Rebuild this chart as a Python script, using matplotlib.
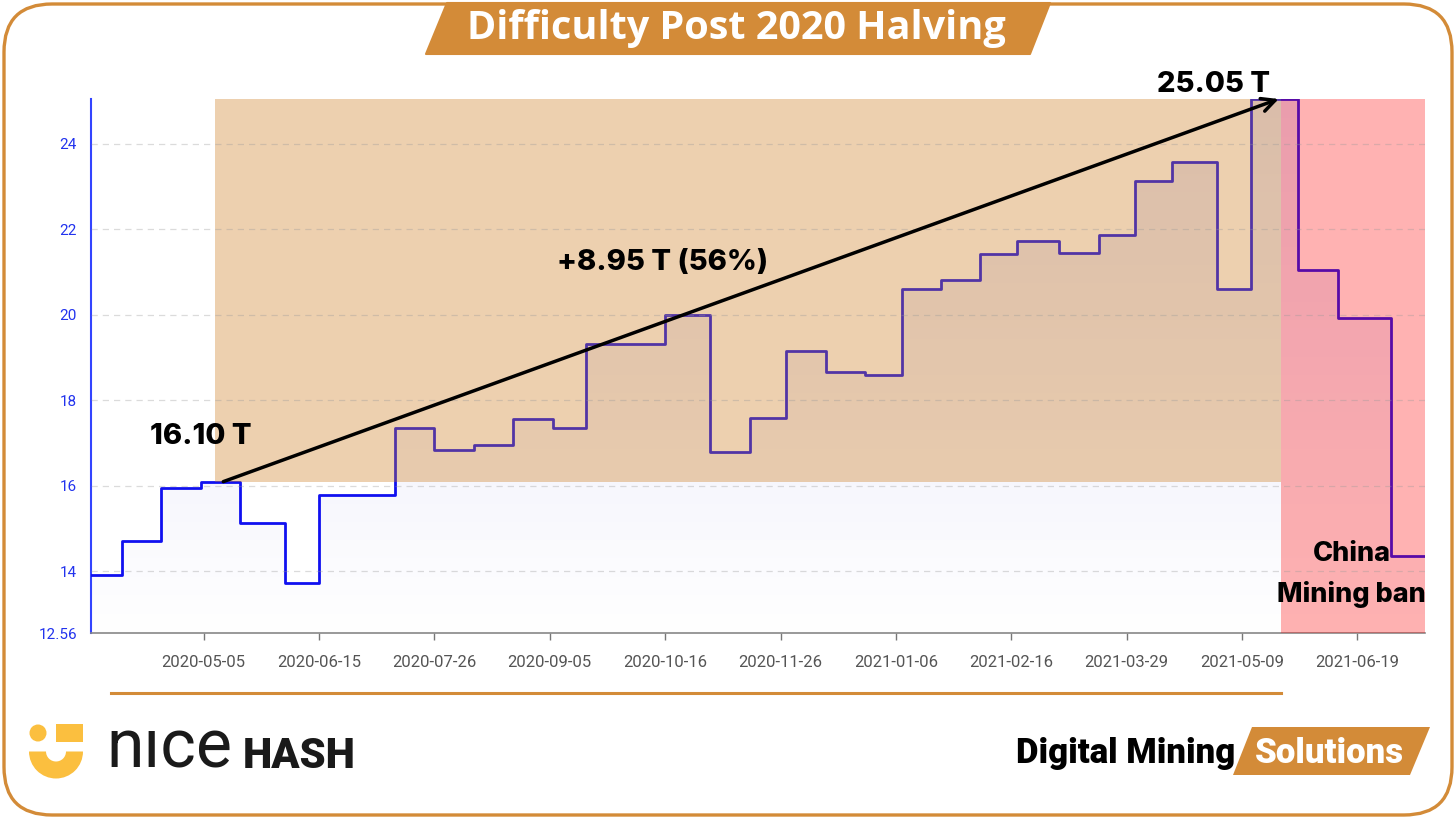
import numpy as np
import pandas as pd
import matplotlib.pyplot as plt
import matplotlib.dates as mdates
from matplotlib.patches import FancyBboxPatch, Polygon, Circle, Rectangle, Wedge
from matplotlib.colors import LinearSegmentedColormap

# difficulty steps (T), each value holds until the next date
change_dates = ['2020-03-26', '2020-04-06', '2020-04-20', '2020-05-04', '2020-05-18',
                '2020-06-03', '2020-06-15', '2020-07-12', '2020-07-26', '2020-08-09',
                '2020-08-23', '2020-09-06', '2020-09-18', '2020-10-16', '2020-11-01',
                '2020-11-15', '2020-11-28', '2020-12-12', '2020-12-26', '2021-01-08',
                '2021-01-22', '2021-02-05', '2021-02-18', '2021-03-05', '2021-03-19',
                '2021-04-01', '2021-04-14', '2021-04-30', '2021-05-12', '2021-05-29',
                '2021-06-12', '2021-07-01', '2021-07-13']
difficulty = [13.91, 14.72, 15.96, 16.10, 15.14, 13.73, 15.78, 17.35, 16.85, 16.95,
              17.56, 17.35, 19.31, 19.99, 16.79, 17.60, 19.16, 18.67, 18.60, 20.61,
              20.82, 21.43, 21.72, 21.45, 21.87, 23.14, 23.58, 20.61, 25.05, 21.05,
              19.93, 14.36, 14.36]

tick_dates = ['2020-05-05', '2020-06-15', '2020-07-26', '2020-09-05', '2020-10-16',
              '2020-11-26', '2021-01-06', '2021-02-16', '2021-03-29', '2021-05-09',
              '2021-06-19']
y_ticks = [12.56, 14, 16, 18, 20, 22, 24]

halving_start = '2020-05-09'
ban_start = '2021-05-23'
arrow_start = '2020-05-12'
arrow_end = '2021-05-22'
low_value = 16.10
high_value = 25.05

ORANGE = '#D38B38'
YELLOW = '#FBBF3F'

dates = pd.to_datetime(change_dates)
y_min, y_max = y_ticks[0], high_value

fig = plt.figure(figsize=(14.56, 8.19), dpi=100)

# background layer in pixel coordinates: frame, banner, logos
bg = fig.add_axes([0, 0, 1, 1])
bg.set_xlim(0, 1456)
bg.set_ylim(819, 0)
bg.axis('off')
bg.add_patch(FancyBboxPatch((4, 4), 1448, 811, boxstyle='round,pad=0,rounding_size=48',
                            fc='white', ec=ORANGE, lw=2.4))
bg.add_patch(Polygon([(426, 54), (447, 3), (1050, 3), (1030, 54)], closed=True,
                     fc=ORANGE, ec=ORANGE, lw=1.5, joinstyle='round'))
bg.text(736, 29, 'Difficulty Post 2020 Halving', color='white', fontsize=28.5,
        fontweight='bold', family='Open Sans', ha='center', va='center')
bg.plot([111, 1281], [693, 693], color=ORANGE, lw=2.2)

# nicehash logo
bg.add_patch(Circle((38, 733), 8.5, fc=YELLOW, ec='none'))
bg.add_patch(Rectangle((56, 724), 27, 18, fc=YELLOW, ec='none'))
bg.add_patch(Wedge((56, 751.5), 27, 0, 180, width=17, fc=YELLOW, ec='none'))
bg.text(106, 768, 'nıce', fontsize=49, family='Roboto', fontweight='normal',
        color='#1a1a1a', va='baseline')
bg.text(356, 768, 'HASH', fontsize=30, family='Roboto', fontweight='black',
        color='#1a1a1a', va='baseline', ha='right')

# Digital Mining Solutions logo
bg.text(1235, 763, 'Digital Mining', fontsize=25, family='Roboto', fontweight='black',
        color='black', va='baseline', ha='right')
bg.add_patch(Polygon([(1233, 775), (1252, 727), (1430, 727), (1410, 775)], closed=True,
                     fc=ORANGE, ec='none'))
bg.text(1329, 763, 'Solutions', fontsize=25, family='Roboto', fontweight='black',
        color='white', va='baseline', ha='center')

# main chart
ax = fig.add_axes([91 / 1456, 186 / 819, 1334 / 1456, 534 / 819])
ax.set_facecolor('none')

area = ax.fill_between(dates, difficulty, y_min, step='post', facecolor='none',
                       edgecolor='none')
grad_cmap = LinearSegmentedColormap.from_list('lav', ['#FFFFFF', '#E2E2F8'])
grad = np.linspace(0, 1, 256).reshape(-1, 1)
img = ax.imshow(grad, cmap=grad_cmap, origin='lower', aspect='auto',
                extent=[mdates.date2num(dates[0]), mdates.date2num(dates[-1]), y_min, y_max],
                zorder=1)
img.set_clip_path(area.get_paths()[0], transform=ax.transData)

ax.plot(dates, difficulty, drawstyle='steps-post', color='#1010F0', lw=2, zorder=3)

ax.fill_between([pd.Timestamp(halving_start), pd.Timestamp(ban_start)], low_value,
                high_value, color='#CD7A1A', alpha=0.35, lw=0, zorder=4)
ax.axvspan(pd.Timestamp(ban_start), dates[-1], color='#FF0000', alpha=0.3, lw=0, zorder=4)

ax.hlines(y_ticks[1:], dates[0], dates[-1], colors='#999999', alpha=0.35, lw=0.9,
          linestyles=(0, (5, 4)), zorder=5)

ax.annotate('', xy=(pd.Timestamp(arrow_end), high_value),
            xytext=(pd.Timestamp(arrow_start), low_value),
            arrowprops=dict(arrowstyle='->', color='black', lw=2.5, mutation_scale=24,
                            shrinkA=0, shrinkB=0), zorder=6, annotation_clip=False)

font = dict(family='Inter', fontweight='heavy', color='black', ha='center', va='center',
            zorder=7)
ax.text(pd.Timestamp('2020-05-04'), 17.15, '16.10 T', fontsize=21, **font)
ax.text(pd.Timestamp('2020-10-15'), 21.23, '+8.95 T (56%)', fontsize=21, **font)
ax.text(pd.Timestamp('2021-04-29'), 25.38, '25.05 T', fontsize=21, clip_on=False, **font)
ax.text(pd.Timestamp('2021-06-17'), 14.40, 'China', fontsize=19.5, **font)
ax.text(pd.Timestamp('2021-06-17'), 13.46, 'Mining ban', fontsize=19.5, **font)

ax.set_xlim(dates[0], dates[-1])
ax.set_ylim(y_min, y_max)
ax.set_xticks(pd.to_datetime(tick_dates))
ax.xaxis.set_major_formatter(mdates.DateFormatter('%Y-%m-%d'))
ax.set_yticks(y_ticks)
ax.set_yticklabels([f'{v:g}' for v in y_ticks])
ax.tick_params(axis='x', colors='#777777', labelcolor='#555555', length=5, width=1,
               labelsize=12, pad=11)
ax.tick_params(axis='y', labelcolor='#2233EE', length=0, labelsize=11, pad=10)
for lab in ax.get_xticklabels() + ax.get_yticklabels():
    lab.set_family('Roboto')

ax.spines['top'].set_visible(False)
ax.spines['right'].set_visible(False)
ax.spines['left'].set_color('#3344FF')
ax.spines['left'].set_linewidth(1.5)
ax.spines['bottom'].set_color('#888888')
ax.spines['bottom'].set_linewidth(1.2)

fig.savefig('out.png', dpi=100)
